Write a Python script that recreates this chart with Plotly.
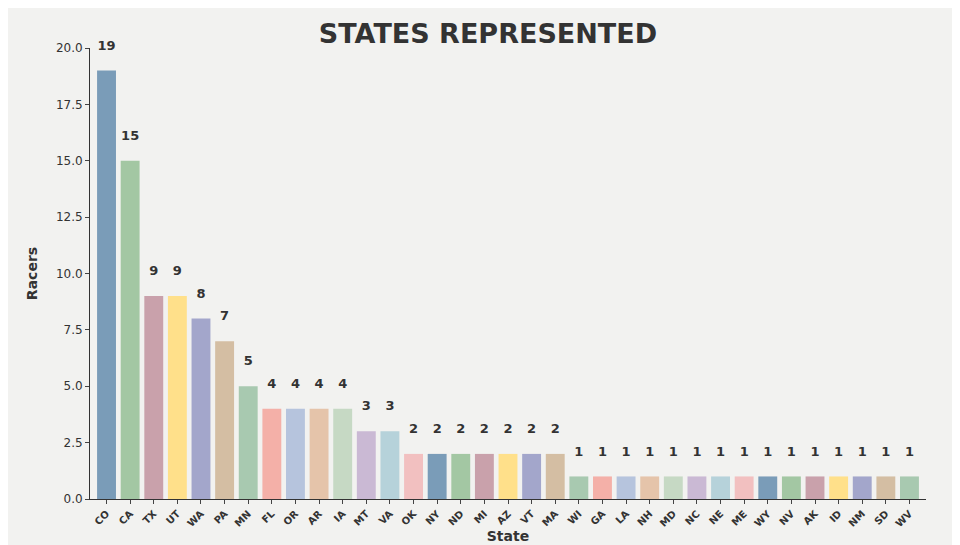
import plotly.graph_objects as go

states = ["CO", "CA", "TX", "UT", "WA", "PA", "MN", "FL", "OR", "AR", "IA", "MT", "VA", "OK",
          "NY", "ND", "MI", "AZ", "VT", "MA", "WI", "GA", "LA", "NH", "MD", "NC", "NE", "ME",
          "WY", "NV", "AK", "ID", "NM", "SD", "WV"]
racers = [19, 15, 9, 9, 8, 7, 5, 4, 4, 4, 4, 3, 3, 2,
          2, 2, 2, 2, 2, 2, 1, 1, 1, 1, 1, 1, 1, 1,
          1, 1, 1, 1, 1, 1, 1]
palette = ["#7a9cb8", "#a3c7a3", "#c9a1ab", "#ffe08a", "#a3a6cb", "#d4bea3", "#a8c9b0",
           "#f4b0a8", "#b6c4dd", "#e5c4aa", "#c6d9c4", "#cab9d4", "#b6d2da", "#f2c0c0"]
colors = [palette[i % len(palette)] for i in range(len(states))]

fig = go.Figure(go.Bar(
    x=states, y=racers, marker_color=colors, marker_line_width=0,
    text=racers, textposition="outside", cliponaxis=False,
    textfont=dict(size=13, color="#333333", family="DejaVu Sans"),
    texttemplate="<b>%{text}</b><br><span style='font-size:4px'> </span>",
))
fig.update_layout(
    width=960, height=545,
    paper_bgcolor="#f2f2f0", plot_bgcolor="#f2f2f0",
    margin=dict(l=82, r=42, t=40, b=47),
    bargap=0.2,
    font=dict(family="DejaVu Sans", color="#333333", size=12),
    title=dict(text="<b>STATES REPRESENTED</b>", x=0.5, y=0.97, xanchor="center",
               font=dict(size=27, color="#333333")),
    showlegend=False,
)
fig.update_xaxes(title=dict(text="<b>State</b>", font=dict(size=14), standoff=2),
                 tickangle=-45, tickfont=dict(size=10), ticks="outside", ticklen=4,
                 tickprefix="<b>", ticksuffix="</b>",
                 showline=True, linecolor="#333333", showgrid=False,
                 range=[-0.7, len(states) - 0.3])
fig.update_yaxes(title=dict(text="<b>Racers</b>", font=dict(size=14), standoff=14),
                 range=[0, 20], dtick=2.5, tickformat=".1f", ticks="outside", ticklen=4,
                 showline=True, linecolor="#333333", showgrid=False, zeroline=False)
fig.write_html("out.html")
